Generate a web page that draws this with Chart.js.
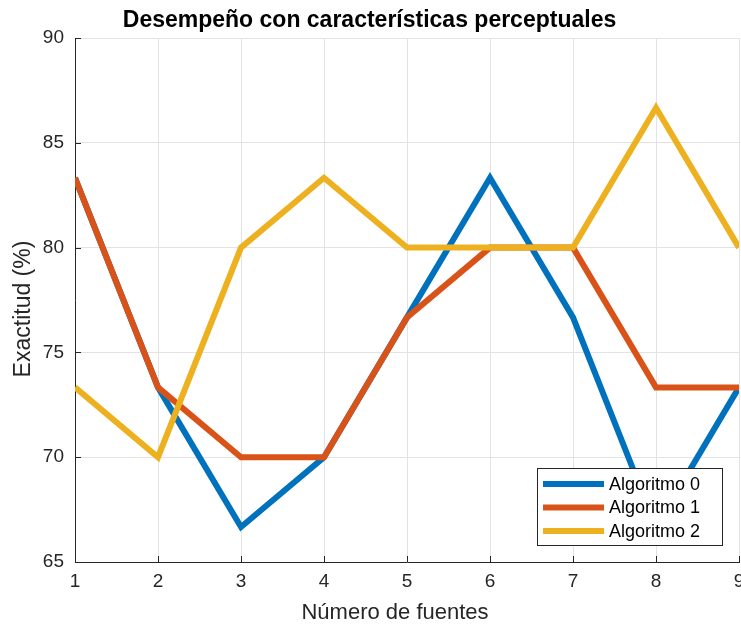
<!DOCTYPE html>
<html>
<head>
<meta charset="utf-8">
<script src="https://cdn.jsdelivr.net/npm/chart.js@4/dist/chart.umd.min.js"></script>
<style>
  html, body { margin: 0; padding: 0; background: #fff; }
  #wrap { width: 741px; height: 625px; }
</style>
</head>
<body>
<div id="wrap"><canvas id="c" width="741" height="625"></canvas></div>
<script>
const categories = [1, 2, 3, 4, 5, 6, 7, 8, 9];
const alg0 = [83.33, 73.33, 66.67, 70.00, 76.67, 83.33, 76.67, 66.67, 73.33];
const alg1 = [83.33, 73.33, 70.00, 70.00, 76.67, 80.00, 80.00, 73.33, 73.33];
const alg2 = [73.33, 70.00, 80.00, 83.33, 80.00, 80.00, 80.00, 86.67, 80.00];
const seriesNames = ['Algoritmo 0', 'Algoritmo 1', 'Algoritmo 2'];
const yTicks = [65, 70, 75, 80, 85, 90];
const titleText = 'Desempeño con características perceptuales';
const xTitle = 'Número de fuentes';
const yTitle = 'Exactitud (%)';

const colors = ['#0072BD', '#D95319', '#EDB120'];
const FONT = "'Liberation Sans', Arial, Helvetica, sans-serif";
const AXIS = '#262626';

function mk(data, i) {
  return {
    label: seriesNames[i],
    data: categories.map((x, k) => ({ x: x, y: data[k] })),
    borderColor: colors[i],
    backgroundColor: colors[i],
    borderWidth: 6,
    pointRadius: 0,
    pointHoverRadius: 0,
    tension: 0,
    clip: 0,
    order: 2 - i
  };
}

const innerTicks = {
  id: 'innerTicks',
  afterDatasetsDraw(chart) {
    const ctx = chart.ctx;
    const xs = chart.scales.x, ys = chart.scales.y;
    const a = chart.chartArea;
    ctx.save();
    ctx.strokeStyle = AXIS;
    ctx.lineWidth = 1;
    ctx.beginPath();
    categories.forEach(v => {
      const px = Math.round(xs.getPixelForValue(v)) + 0.5;
      ctx.moveTo(px, a.bottom);
      ctx.lineTo(px, a.bottom - 6);
    });
    yTicks.forEach(v => {
      const py = Math.round(ys.getPixelForValue(v)) + 0.5;
      ctx.moveTo(a.left, py);
      ctx.lineTo(a.left + 6, py);
    });
    ctx.stroke();
    ctx.restore();
  }
};

const axisTitles = {
  id: 'axisTitles',
  afterDraw(chart) {
    const ctx = chart.ctx;
    ctx.save();
    ctx.fillStyle = AXIS;
    ctx.textAlign = 'center';
    ctx.textBaseline = 'alphabetic';
    ctx.font = '22px ' + FONT;
    ctx.fillText(xTitle, 395, 619);
    ctx.translate(30, 309);
    ctx.rotate(-Math.PI / 2);
    ctx.font = '23px ' + FONT;
    ctx.fillText(yTitle, 0, 0);
    ctx.restore();
  }
};

const boxLegend = {
  id: 'boxLegend',
  afterDraw(chart) {
    const ctx = chart.ctx;
    const x0 = 537.5, y0 = 468.5, w = 185, h = 77;
    ctx.save();
    ctx.fillStyle = '#ffffff';
    ctx.fillRect(x0, y0, w, h);
    ctx.strokeStyle = AXIS;
    ctx.lineWidth = 1;
    ctx.strokeRect(x0, y0, w, h);
    ctx.font = '18px ' + FONT;
    ctx.textBaseline = 'middle';
    ctx.textAlign = 'left';
    chart.data.datasets.forEach((ds, i) => {
      const yy = 484 + i * 23.5;
      ctx.strokeStyle = ds.borderColor;
      ctx.lineWidth = 6;
      ctx.beginPath();
      ctx.moveTo(543, yy);
      ctx.lineTo(604, yy);
      ctx.stroke();
      ctx.fillStyle = '#000000';
      ctx.fillText(ds.label, 609, yy + 1);
    });
    ctx.restore();
  }
};

new Chart(document.getElementById('c'), {
  type: 'line',
  data: { datasets: [mk(alg0, 0), mk(alg1, 1), mk(alg2, 2)] },
  options: {
    responsive: false,
    animation: false,
    events: [],
    layout: { padding: { left: 0, right: 2, top: 0, bottom: 0 } },
    plugins: {
      legend: { display: false },
      tooltip: { enabled: false },
      title: {
        display: true,
        text: titleText,
        color: '#000000',
        font: { family: FONT, size: 23, weight: 'bold' },
        padding: { top: 7, bottom: 3.4 }
      }
    },
    scales: {
      x: {
        type: 'linear',
        min: 1, max: 9,
        afterFit(s) { s.height = 63; s.paddingLeft = 0; s.paddingRight = 0; },
        afterBuildTicks(s) { s.ticks = categories.map(v => ({ value: v })); },
        ticks: {
          color: AXIS,
          font: { family: FONT, size: 19 },
          padding: 8,
          maxRotation: 0,
          autoSkip: false,
          callback: v => String(v)
        },
        grid: { color: '#e3e3e3', drawTicks: false, lineWidth: 1 },
        border: { display: true, color: AXIS, width: 1 },
        title: { display: false, text: xTitle }
      },
      y: {
        type: 'linear',
        min: 65, max: 90,
        afterFit(s) { s.width = 75; s.paddingTop = 0; s.paddingBottom = 0; },
        afterBuildTicks(s) { s.ticks = yTicks.map(v => ({ value: v })); },
        ticks: {
          color: AXIS,
          font: { family: FONT, size: 19 },
          padding: 11,
          callback: v => String(v)
        },
        grid: { color: '#e3e3e3', drawTicks: false, lineWidth: 1 },
        border: { display: true, color: AXIS, width: 1 },
        title: { display: false, text: yTitle }
      }
    }
  },
  plugins: [innerTicks, axisTitles, boxLegend]
});
</script>
</body>
</html>
